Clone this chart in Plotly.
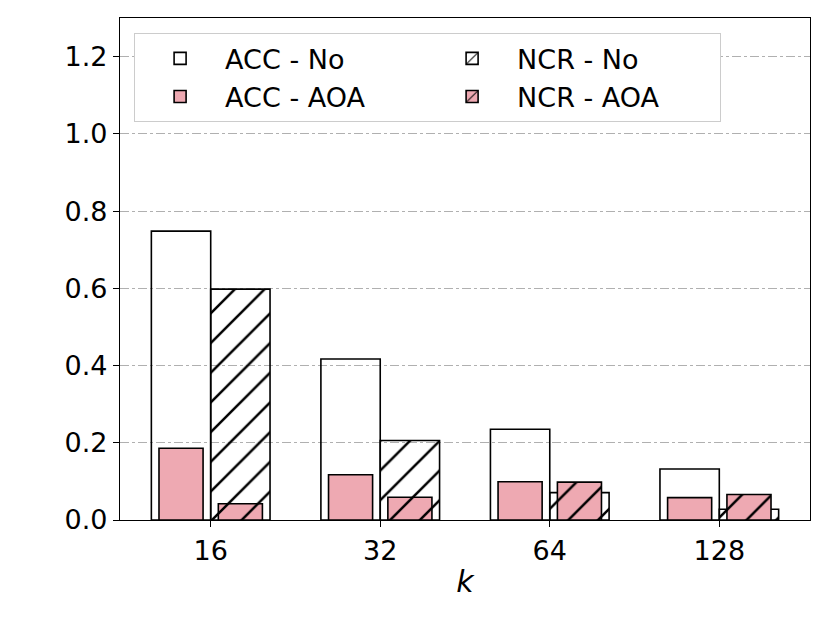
import plotly.graph_objects as go

categories = ["16", "32", "64", "128"]
acc_no = [0.748, 0.417, 0.235, 0.132]
ncr_no = [0.598, 0.206, 0.071, 0.028]
acc_aoa = [0.186, 0.117, 0.099, 0.058]
ncr_aoa = [0.042, 0.059, 0.098, 0.066]

PINK = "#EEA9B2"
FONT = "DejaVu Sans"
FS = 27

xpos = list(range(len(categories)))
W = 0.35
WN = 0.26

fig = go.Figure()
line = dict(color="black", width=1.6)
hatch_no = dict(shape="/", fgcolor="black", fgopacity=1, bgcolor="rgba(0,0,0,0)", size=21, solidity=0.12)
hatch_aoa = dict(shape="/", fgcolor="black", fgopacity=1, bgcolor=PINK, size=21, solidity=0.12)

fig.add_trace(go.Bar(x=xpos, y=acc_no, name="ACC - No", width=W, offset=-W,
                     marker=dict(color="rgba(0,0,0,0)", line=line)))
fig.add_trace(go.Bar(x=xpos, y=ncr_no, name="NCR - No", width=W, offset=0,
                     marker=dict(color="rgba(0,0,0,0)", line=line, pattern=hatch_no)))
fig.add_trace(go.Bar(x=xpos, y=acc_aoa, name="ACC - AOA", width=WN, offset=-W / 2 - WN / 2,
                     marker=dict(color=PINK, line=line)))
fig.add_trace(go.Bar(x=xpos, y=ncr_aoa, name="NCR - AOA", width=WN, offset=W / 2 - WN / 2,
                     marker=dict(color=PINK, line=line, pattern=hatch_aoa)))

fig.update_layout(
    width=830, height=623,
    margin=dict(l=120, r=20, t=18, b=103, autoexpand=False),
    barmode="overlay",
    plot_bgcolor="white", paper_bgcolor="white",
    font=dict(family=FONT, size=FS, color="black"),
    legend=dict(orientation="h", x=0.02, y=0.97, xanchor="left", yanchor="top",
                entrywidth=197, bgcolor="white", bordercolor="#cccccc", borderwidth=1.3,
                font=dict(size=FS), traceorder="normal",
                itemwidth=80),
    showlegend=True,
)
fig.update_xaxes(range=[-0.535, 3.535], tickvals=xpos, ticktext=categories, automargin=False,
                 showline=True, linecolor="black", linewidth=1.3, mirror=True,
                 ticks="outside", ticklen=6, tickcolor="black", showgrid=False, zeroline=False,
                 title=dict(text="<i>k</i>", font=dict(size=30), standoff=6))
fig.update_yaxes(range=[0, 1.3], tickvals=[0, 0.2, 0.4, 0.6, 0.8, 1.0, 1.2], tickformat=".1f",
                 automargin=False,
                 showline=True, linecolor="black", linewidth=1.3, mirror=True,
                 ticks="outside", ticklen=6, tickcolor="black",
                 showgrid=True, gridcolor="#b0b0b0", gridwidth=1, griddash="dashdot", zeroline=False)

fig.write_html("out.html", config={"displayModeBar": False},
               post_script="document.body.style.margin='0';")
